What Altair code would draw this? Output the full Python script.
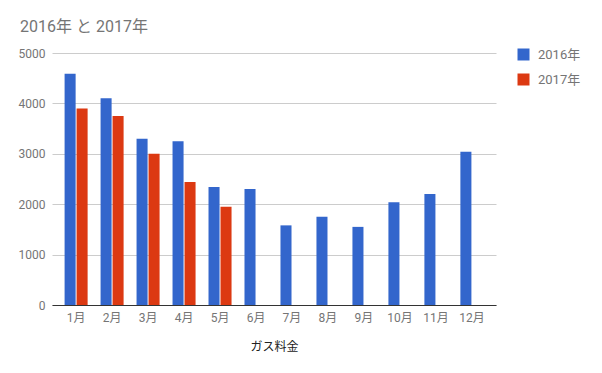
import altair as alt
import pandas as pd

months = ["1月", "2月", "3月", "4月", "5月", "6月", "7月", "8月", "9月", "10月", "11月", "12月"]
series = ["2016年", "2017年"]
values_2016 = [4590, 4100, 3300, 3250, 2340, 2300, 1580, 1750, 1550, 2040, 2200, 3040]
values_2017 = [3900, 3750, 3000, 2440, 1950, None, None, None, None, None, None, None]
colors = ["#3366CC", "#DC3912"]

rows = []
for m, a, b in zip(months, values_2016, values_2017):
    rows.append({"month": m, "series": series[0], "value": a})
    if b is not None:
        rows.append({"month": m, "series": series[1], "value": b})
df = pd.DataFrame(rows)

FONT = "Roboto, 'Noto Sans CJK JP', sans-serif"

chart = alt.Chart(df).mark_bar().encode(
    x=alt.X("month:N", sort=months,
            scale=alt.Scale(paddingInner=0.36, paddingOuter=0.35),
            axis=alt.Axis(title="ガス料金", labelAngle=0, ticks=False, domain=True,
                          domainColor="#333333", domainWidth=1,
                          labelColor="#757575", labelFontSize=12, labelPadding=7,
                          titleColor="#222222", titleFontSize=12, titleFontWeight="normal",
                          titlePadding=18, grid=False, labelFont=FONT, titleFont=FONT)),
    xOffset=alt.XOffset("series:N", scale=alt.Scale(domain=series, paddingInner=0.08)),
    y=alt.Y("value:Q", scale=alt.Scale(domain=[0, 5000], nice=False),
            axis=alt.Axis(title=None, values=[0, 1000, 2000, 3000, 4000, 5000],
                          format="d", ticks=False, domain=False, gridColor="#CCCCCC",
                          labelColor="#757575", labelFontSize=12, labelPadding=7,
                          labelFont=FONT)),
    color=alt.Color("series:N", scale=alt.Scale(domain=series, range=colors),
                    legend=alt.Legend(title=None, orient="none", legendX=465, legendY=-5,
                                      symbolType="square", symbolSize=144,
                                      symbolStrokeWidth=0, labelFontSize=13,
                                      labelColor="#757575", labelOffset=8,
                                      rowPadding=11, padding=0, labelFont=FONT)),
).properties(
    width=444,
    height=252,
    title=alt.TitleParams("2016年 と 2017年", anchor="start", frame="group", dx=-32,
                          fontSize=16, fontWeight="normal", color="#757575", font=FONT,
                          offset=12),
    autosize=alt.AutoSizeParams(type="none"),
    padding={"left": 44, "top": 45, "right": 98, "bottom": 60},
).configure_view(stroke=None)

chart.save("out.html", embed_options={"renderer": "svg", "actions": False})
